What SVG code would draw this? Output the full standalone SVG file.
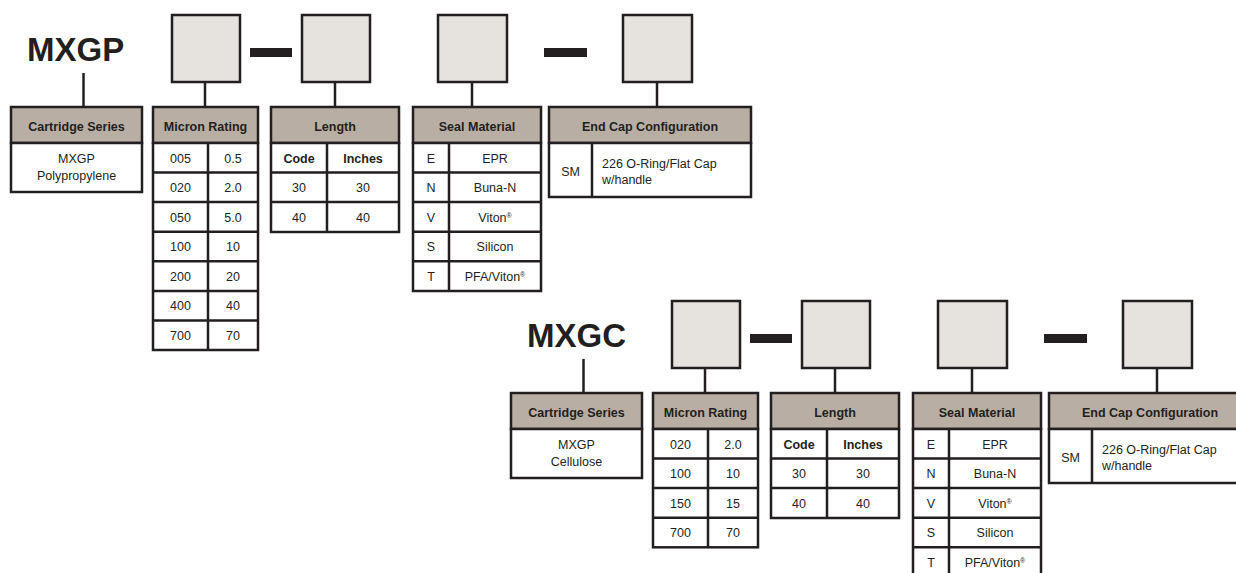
<svg xmlns="http://www.w3.org/2000/svg" width="1236" height="573" viewBox="0 0 1236 573">
<style>
.b{fill:#fff;stroke:#231f20;stroke-width:2.5}
.h{fill:#b9aea3;stroke:#231f20;stroke-width:2.5}
.k{fill:#e6e2dd;stroke:#231f20;stroke-width:2.5}
.l{stroke:#231f20;stroke-width:2.5;fill:none}
.d{fill:#231f20}
text{font-family:"Liberation Sans",Arial,sans-serif;fill:#231f20;font-size:12.5px}
.ht{font-weight:bold;text-anchor:middle}
.c{text-anchor:middle}
.big{font-size:33px;font-weight:bold}
.sup{font-size:7px}
</style>
<rect width="1236" height="573" fill="#fff"/>
<!-- Chart 1 -->
<g id="chart-mxgp">
  <g id="code-mxgp"><text class="big" x="27" y="61">MXGP</text></g>
  <g id="boxes1">
    <rect class="k" x="172" y="15" width="68" height="67"/>
    <rect class="d" x="250" y="48" width="42" height="9"/>
    <rect class="k" x="302" y="15" width="68" height="67"/>
    <rect class="k" x="438" y="15" width="69" height="67"/>
    <rect class="d" x="544" y="48" width="43" height="9"/>
    <rect class="k" x="623" y="15" width="69" height="67"/>
  </g>
  <g id="connectors1">
    <line class="l" x1="83.5" y1="73" x2="83.5" y2="107"/>
    <line class="l" x1="205" y1="82" x2="205" y2="107"/>
    <line class="l" x1="335" y1="82" x2="335" y2="107"/>
    <line class="l" x1="472" y1="82" x2="472" y2="107"/>
    <line class="l" x1="657" y1="82" x2="657" y2="107"/>
  </g>
  <g id="series1">
    <rect class="h" x="11" y="107" width="131" height="36"/>
    <rect class="b" x="11" y="143" width="131" height="49"/>
    <text class="ht" x="76.5" y="131">Cartridge Series</text>
    <text class="c" x="76.5" y="163">MXGP</text>
    <text class="c" x="76.5" y="180">Polypropylene</text>
  </g>
  <g id="micron1">
    <rect class="h" x="153" y="107" width="105" height="36"/>
    <rect class="b" x="153" y="143" width="105" height="207"/>
    <path class="l" d="M208 143V350M153 172.6H258M153 202.1H258M153 231.7H258M153 261.3H258M153 290.9H258M153 320.4H258"/>
    <text class="ht" x="205.5" y="131">Micron Rating</text>
    <text class="c" x="180.5" y="162.5">005</text><text class="c" x="233" y="162.5">0.5</text>
    <text class="c" x="180.5" y="192">020</text><text class="c" x="233" y="192">2.0</text>
    <text class="c" x="180.5" y="221.5">050</text><text class="c" x="233" y="221.5">5.0</text>
    <text class="c" x="180.5" y="251">100</text><text class="c" x="233" y="251">10</text>
    <text class="c" x="180.5" y="280.5">200</text><text class="c" x="233" y="280.5">20</text>
    <text class="c" x="180.5" y="310">400</text><text class="c" x="233" y="310">40</text>
    <text class="c" x="180.5" y="339.5">700</text><text class="c" x="233" y="339.5">70</text>
  </g>
  <g id="length1">
    <rect class="h" x="271" y="107" width="128" height="36"/>
    <rect class="b" x="271" y="143" width="128" height="89"/>
    <path class="l" d="M327 143V232M271 172.6H399M271 202.1H399"/>
    <text class="ht" x="335" y="131">Length</text>
    <text class="ht" x="299" y="162.5">Code</text><text class="ht" x="363" y="162.5">Inches</text>
    <text class="c" x="299" y="192">30</text><text class="c" x="363" y="192">30</text>
    <text class="c" x="299" y="221.5">40</text><text class="c" x="363" y="221.5">40</text>
  </g>
  <g id="seal1">
    <rect class="h" x="413" y="107" width="128" height="36"/>
    <rect class="b" x="413" y="143" width="128" height="148"/>
    <path class="l" d="M449 143V291M413 172.6H541M413 202.1H541M413 231.7H541M413 261.3H541"/>
    <text class="ht" x="477" y="131">Seal Material</text>
    <text class="c" x="431" y="162.5">E</text><text class="c" x="495" y="162.5">EPR</text>
    <text class="c" x="431" y="192">N</text><text class="c" x="495" y="192">Buna-N</text>
    <text class="c" x="431" y="221.5">V</text><text class="c" x="495" y="221.5">Viton<tspan class="sup" dy="-4">®</tspan></text>
    <text class="c" x="431" y="251">S</text><text class="c" x="495" y="251">Silicon</text>
    <text class="c" x="431" y="280.5">T</text><text class="c" x="495" y="280.5">PFA/Viton<tspan class="sup" dy="-4">®</tspan></text>
  </g>
  <g id="endcap1">
    <rect class="h" x="549" y="107" width="202" height="36"/>
    <rect class="b" x="549" y="143" width="202" height="54"/>
    <path class="l" d="M592 143V197"/>
    <text class="ht" x="650" y="131">End Cap Configuration</text>
    <text class="c" x="570.5" y="176">SM</text>
    <text x="602" y="168">226 O-Ring/Flat Cap</text>
    <text x="602" y="184">w/handle</text>
  </g>
</g>
<!-- Chart 2 -->
<g id="chart-mxgc" transform="translate(500,286)">
  <g id="code-mxgc"><text class="big" x="27" y="61">MXGC</text></g>
  <g id="boxes2">
    <rect class="k" x="172" y="15" width="68" height="67"/>
    <rect class="d" x="250" y="48" width="42" height="9"/>
    <rect class="k" x="302" y="15" width="68" height="67"/>
    <rect class="k" x="438" y="15" width="69" height="67"/>
    <rect class="d" x="544" y="48" width="43" height="9"/>
    <rect class="k" x="623" y="15" width="69" height="67"/>
  </g>
  <g id="connectors2">
    <line class="l" x1="83.5" y1="73" x2="83.5" y2="107"/>
    <line class="l" x1="205" y1="82" x2="205" y2="107"/>
    <line class="l" x1="335" y1="82" x2="335" y2="107"/>
    <line class="l" x1="472" y1="82" x2="472" y2="107"/>
    <line class="l" x1="657" y1="82" x2="657" y2="107"/>
  </g>
  <g id="series2">
    <rect class="h" x="11" y="107" width="131" height="36"/>
    <rect class="b" x="11" y="143" width="131" height="49"/>
    <text class="ht" x="76.5" y="131">Cartridge Series</text>
    <text class="c" x="76.5" y="163">MXGP</text>
    <text class="c" x="76.5" y="180">Cellulose</text>
  </g>
  <g id="micron2">
    <rect class="h" x="153" y="107" width="105" height="36"/>
    <rect class="b" x="153" y="143" width="105" height="118.3"/>
    <path class="l" d="M208 143V261.3M153 172.6H258M153 202.1H258M153 231.7H258"/>
    <text class="ht" x="205.5" y="131">Micron Rating</text>
    <text class="c" x="180.5" y="162.5">020</text><text class="c" x="233" y="162.5">2.0</text>
    <text class="c" x="180.5" y="192">100</text><text class="c" x="233" y="192">10</text>
    <text class="c" x="180.5" y="221.5">150</text><text class="c" x="233" y="221.5">15</text>
    <text class="c" x="180.5" y="251">700</text><text class="c" x="233" y="251">70</text>
  </g>
  <g id="length2">
    <rect class="h" x="271" y="107" width="128" height="36"/>
    <rect class="b" x="271" y="143" width="128" height="89"/>
    <path class="l" d="M327 143V232M271 172.6H399M271 202.1H399"/>
    <text class="ht" x="335" y="131">Length</text>
    <text class="ht" x="299" y="162.5">Code</text><text class="ht" x="363" y="162.5">Inches</text>
    <text class="c" x="299" y="192">30</text><text class="c" x="363" y="192">30</text>
    <text class="c" x="299" y="221.5">40</text><text class="c" x="363" y="221.5">40</text>
  </g>
  <g id="seal2">
    <rect class="h" x="413" y="107" width="128" height="36"/>
    <rect class="b" x="413" y="143" width="128" height="148"/>
    <path class="l" d="M449 143V291M413 172.6H541M413 202.1H541M413 231.7H541M413 261.3H541"/>
    <text class="ht" x="477" y="131">Seal Material</text>
    <text class="c" x="431" y="162.5">E</text><text class="c" x="495" y="162.5">EPR</text>
    <text class="c" x="431" y="192">N</text><text class="c" x="495" y="192">Buna-N</text>
    <text class="c" x="431" y="221.5">V</text><text class="c" x="495" y="221.5">Viton<tspan class="sup" dy="-4">®</tspan></text>
    <text class="c" x="431" y="251">S</text><text class="c" x="495" y="251">Silicon</text>
    <text class="c" x="431" y="280.5">T</text><text class="c" x="495" y="280.5">PFA/Viton<tspan class="sup" dy="-4">®</tspan></text>
  </g>
  <g id="endcap2">
    <rect class="h" x="549" y="107" width="202" height="36"/>
    <rect class="b" x="549" y="143" width="202" height="54"/>
    <path class="l" d="M592 143V197"/>
    <text class="ht" x="650" y="131">End Cap Configuration</text>
    <text class="c" x="570.5" y="176">SM</text>
    <text x="602" y="168">226 O-Ring/Flat Cap</text>
    <text x="602" y="184">w/handle</text>
  </g>
</g>
</svg>
